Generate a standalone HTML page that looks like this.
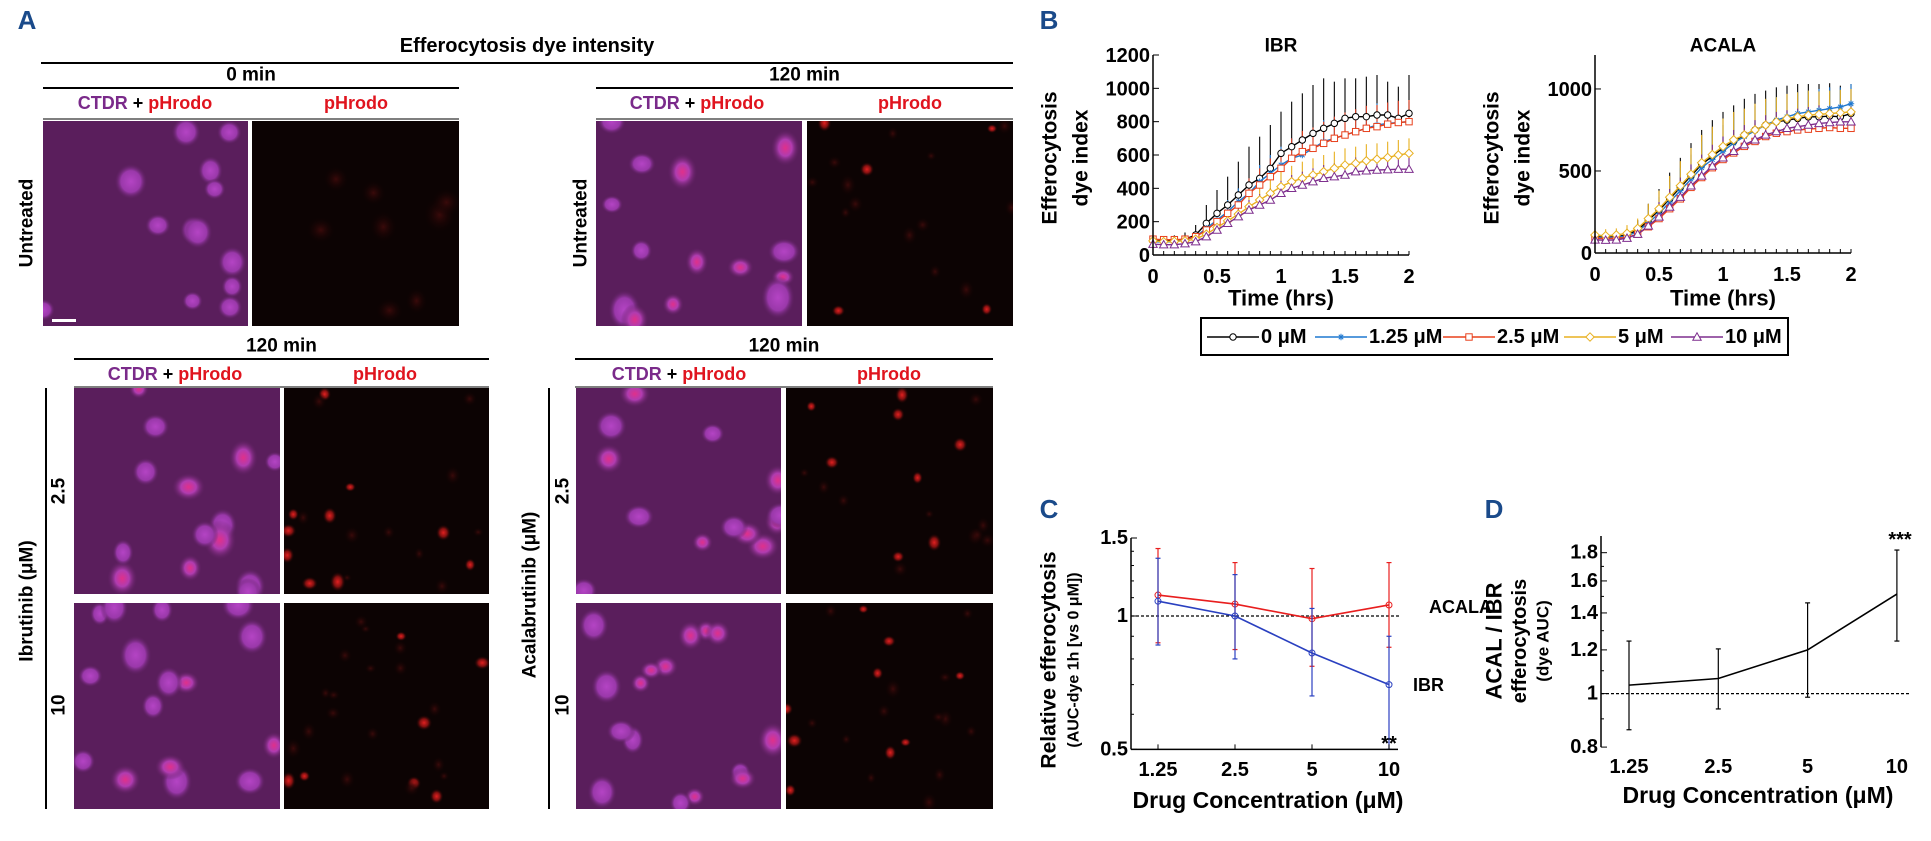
<!DOCTYPE html>
<html><head><meta charset="utf-8">
<style>
html,body{margin:0;padding:0;background:#fff;}
svg{display:block;}
.n{font-family:"Liberation Sans Narrow","Liberation Sans",sans-serif;font-weight:bold;}
.w{font-family:"Liberation Sans",sans-serif;font-weight:bold;}
</style></head>
<body>
<svg id="fig" width="1931" height="841" viewBox="0 0 1931 841" xmlns="http://www.w3.org/2000/svg">
<defs>
<radialGradient id="gCell"><stop offset="0" stop-color="#b444c4"/><stop offset="0.6" stop-color="#9a38aa"/><stop offset="1" stop-color="#5a1e5c" stop-opacity="0"/></radialGradient>
<radialGradient id="gCellR"><stop offset="0" stop-color="#e0308a"/><stop offset="0.45" stop-color="#b03cb0"/><stop offset="1" stop-color="#5a1e5c" stop-opacity="0"/></radialGradient>
<radialGradient id="gRed"><stop offset="0" stop-color="#e02020"/><stop offset="0.5" stop-color="#801010"/><stop offset="1" stop-color="#100202" stop-opacity="0"/></radialGradient>
<radialGradient id="gRedF"><stop offset="0" stop-color="#3a0a0a"/><stop offset="1" stop-color="#100202" stop-opacity="0"/></radialGradient>
</defs>
<g id="panelA"></g>
<g id="panelB"></g>
<g id="panelC"></g>
<g id="panelD"></g>
</svg>
<script>
// ---------- Panel B data (t = 0..2 h, step 5 min) ----------
const timePoints = [0,0.0833,0.1667,0.25,0.3333,0.4167,0.5,0.5833,0.6667,0.75,0.8333,0.9167,1,1.0833,1.1667,1.25,1.3333,1.4167,1.5,1.5833,1.6667,1.75,1.8333,1.9167,2];
const seriesLabels = ["0 μM","1.25 μM","2.5 μM","5 μM","10 μM"];
const ibr0 = [90,85,88,95,120,190,250,300,360,420,460,520,610,650,690,730,760,790,820,830,830,840,840,820,850];
const ibr125 = [80,78,80,90,110,160,210,260,320,370,440,490,540,580,600,640,680,700,720,740,760,780,790,795,800];
const ibr25 = [95,92,92,95,110,150,200,250,300,370,420,470,520,580,620,640,670,700,720,740,760,770,785,795,800];
const ibr5 = [85,80,82,85,95,125,165,205,245,290,330,370,410,440,460,480,500,520,540,550,565,575,585,600,610];
const ibr10 = [65,62,62,68,80,110,150,190,230,270,300,330,370,400,420,440,460,470,480,500,505,510,512,515,515];
const ibrErr0 = [15,20,30,40,60,110,140,170,200,230,250,260,250,270,280,290,300,250,240,230,240,240,200,190,230];
const ibrErr125 = [10,12,15,20,30,50,60,70,80,90,100,110,110,120,120,120,130,130,130,130,130,130,120,120,120];
const ibrErr25 = [10,12,15,20,30,50,60,70,80,90,100,110,115,120,125,125,130,130,135,135,135,130,130,130,130];
const ibrErr5 = [8,10,12,15,25,40,50,60,70,75,80,85,90,95,100,100,100,100,100,100,100,95,95,90,90];
const ibrErr10 = [6,8,10,12,20,30,40,50,55,60,65,70,75,80,80,80,80,80,85,85,85,85,85,85,85];
const ac0 = [100,95,100,110,140,200,260,330,400,470,540,590,640,680,720,750,780,800,810,820,830,830,835,830,850];
const ac125 = [95,92,95,105,130,185,240,310,380,450,520,570,620,670,710,745,780,810,830,850,860,870,880,890,910];
const ac25 = [90,88,90,95,115,160,210,270,330,400,460,520,570,610,650,680,710,730,740,750,755,760,765,760,760];
const ac5 = [110,105,110,120,150,210,270,340,410,480,550,600,650,690,720,750,780,800,820,830,840,845,850,855,860];
const ac10 = [80,78,80,90,115,165,220,280,340,410,470,530,580,620,660,690,720,740,760,770,780,790,795,800,800];
const acErr0 = [20,25,30,40,60,100,130,160,180,200,210,220,220,220,220,220,210,210,210,210,200,200,200,190,180];
const acErr125 = [20,20,25,35,50,80,100,120,140,150,160,160,160,160,150,150,140,140,140,130,130,130,130,120,120];
const acErr25 = [15,15,20,30,45,70,90,100,110,120,120,120,120,110,110,110,100,100,100,100,100,100,100,90,90];
const acErr5 = [40,40,40,50,60,90,110,130,150,160,170,170,170,170,160,160,160,150,150,150,150,140,140,140,140];
const acErr10 = [15,15,20,30,45,70,90,110,120,130,130,130,130,130,120,120,120,120,110,110,110,110,100,100,100];
const ibrTicks = [0,200,400,600,800,1000,1200];
const acTicks = [0,500,1000];
const timeTicks = [0,0.5,1,1.5,2];
// ---------- Panel C data ----------
const concLabels = ["1.25","2.5","5","10"];
const acalaRel = [1.115,1.064,0.986,1.059];
const acalaLo = [0.87,0.84,0.77,0.85];
const acalaHi = [1.42,1.32,1.28,1.32];
const ibrRel = [1.08,1.0,0.825,0.70];
const ibrLo = [0.86,0.80,0.66,0.50];
const ibrHi = [1.35,1.24,1.04,0.90];
const cTicks = [0.5,1,1.5];
// ---------- Panel D data ----------
const ratioVal = [1.036,1.065,1.20,1.515];
const ratioLo = [0.86,0.938,0.985,1.245];
const ratioHi = [1.245,1.205,1.46,1.82];
const dTicks = [0.8,1,1.2,1.4,1.6,1.8];

const NS = "http://www.w3.org/2000/svg";
function mk(parent, tag, attrs, nm, inter){
  const el = document.createElementNS(NS, tag);
  for (const k in attrs) el.setAttribute(k, attrs[k]);
  
  
  parent.appendChild(el);
  return el;
}
function txt(parent, x, y, s, size, cls, fill, nm, anchor, rot){
  const a = {x:x, y:y, 'font-size':size, class:cls, fill:fill||'#000', 'text-anchor':anchor||'middle', 'dominant-baseline':'central'};
  if (rot) a.transform = 'rotate(' + rot + ' ' + x + ' ' + y + ')';
  const t = mk(parent, 'text', a, nm, false);
  t.textContent = s;
  return t;
}
function line(p, x1, y1, x2, y2, stroke, w, nm, dash){
  const a = {x1:x1, y1:y1, x2:x2, y2:y2, stroke:stroke, 'stroke-width':w};
  if (dash) a['stroke-dasharray'] = dash;
  return mk(p, 'line', a, nm, false);
}

// ---------- Panel A (micrographs) ----------
const A = document.getElementById('panelA');
txt(A, 27, 20, "A", 26, 'n', '#1a4a8a', 'panel-a-letter');
txt(A, 527, 46, "Efferocytosis dye intensity", 20, 'w', '#000', 'panel-a-title');
line(A, 41, 63, 1013, 63, '#000', 2, 'title-rule');
let seed = 7;
function rnd(){ seed = (seed * 16807) % 2147483647; return seed / 2147483647; }
function header(x1, x2, yT, yLine, lbl, nm){
  txt(A, (x1+x2)/2, yT, lbl, 19, 'w', '#000', nm);
  line(A, x1, yLine, x2, yLine, '#000', 2, nm + '-rule');
}
function colHeads(xm, xr, y, yLine, x1, x2){
  const g = mk(A, 'text', {x:xm, y:y, 'font-size':18, class:'w', 'text-anchor':'middle', 'dominant-baseline':'central'}, 'merge-channel-label', false);
  g.innerHTML = '<tspan fill="#7a2a8a">CTDR</tspan><tspan fill="#000"> + </tspan><tspan fill="#e0141e">pHrodo</tspan>';
  txt(A, xr, y, "pHrodo", 18, 'w', '#e0141e', 'phrodo-channel-label');
  line(A, x1, yLine, x2, yLine, '#555', 1.5, 'column-header-rule');
}
function micro(x, y, w, h, kind, n, nm){
  const g = mk(A, 'g', {}, nm, false);
  const isMerge = kind === 'merge' || kind === 'mergeR';
  const bg = isMerge ? '#5a1e5c' : '#0c0303';
  mk(g, 'rect', {x:x, y:y, width:w, height:h, fill:bg}, nm + '-background', false);
  const cp = 'clip' + Math.round(x) + '_' + Math.round(y);
  const c = mk(g, 'clipPath', {id:cp}, 'clip', false);
  mk(c, 'rect', {x:x, y:y, width:w, height:h}, 'clip-rect', false);
  const inner = mk(g, 'g', {'clip-path':'url(#' + cp + ')'}, nm + '-cells', false);
  for (let i = 0; i < n; i++){
    const cx = x + rnd()*w, cy = y + rnd()*h, r = 10 + rnd()*7, rr = r*(0.8 + rnd()*0.5);
    let fill;
    if (kind === 'merge') fill = 'url(#gCell)';
    else if (kind === 'mergeR') fill = rnd() < 0.5 ? 'url(#gCellR)' : 'url(#gCell)';
    else if (kind === 'red0') fill = 'url(#gRedF)';
    else fill = rnd() < 0.35 ? 'url(#gRed)' : 'url(#gRedF)';
    const rs = kind === 'red' ? 0.5 : 1.0;
    mk(inner, 'ellipse', {cx:cx, cy:cy, rx:r*rs, ry:rr*rs, fill:fill}, 'cell', false);
  }
  return g;
}
header(43, 459, 75, 88, "0 min", 'header-0min');
header(596, 1013, 75, 88, "120 min", 'header-120min-untreated');
colHeads(145, 356, 103, 119, 43, 459);
colHeads(697, 910, 103, 119, 596, 1013);
micro(43, 121, 205, 205, 'merge', 13, 'untreated-0min-merge');
micro(252, 121, 207, 205, 'red0', 8, 'untreated-0min-phrodo');
mk(A, 'rect', {x:52, y:319, width:24, height:3, fill:'#fff'}, 'scale-bar', false);
micro(596, 121, 206, 205, 'mergeR', 14, 'untreated-120min-merge');
micro(807, 121, 206, 205, 'red', 18, 'untreated-120min-phrodo');
txt(A, 27, 223, "Untreated", 19, 'w', '#000', 'row-label-untreated', 'middle', -90);
txt(A, 581, 223, "Untreated", 19, 'w', '#000', 'row-label-untreated-2', 'middle', -90);
header(74, 489, 346, 359, "120 min", 'header-120min-ibrutinib');
header(575, 993, 346, 359, "120 min", 'header-120min-acalabrutinib');
colHeads(175, 385, 374, 387, 74, 489);
colHeads(679, 889, 374, 387, 575, 993);
micro(74, 388, 206, 206, 'mergeR', 14, 'ibr-2.5-merge');
micro(284, 388, 205, 206, 'red', 20, 'ibr-2.5-phrodo');
micro(74, 603, 206, 206, 'mergeR', 16, 'ibr-10-merge');
micro(284, 603, 205, 206, 'red', 24, 'ibr-10-phrodo');
micro(576, 388, 205, 206, 'mergeR', 13, 'acal-2.5-merge');
micro(786, 388, 207, 206, 'red', 18, 'acal-2.5-phrodo');
micro(576, 603, 205, 206, 'mergeR', 16, 'acal-10-merge');
micro(786, 603, 207, 206, 'red', 22, 'acal-10-phrodo');
line(A, 46, 388, 46, 809, '#000', 2, 'ibrutinib-bracket');
line(A, 549, 388, 549, 809, '#000', 2, 'acalabrutinib-bracket');
txt(A, 27, 601, "Ibrutinib (μM)", 19, 'w', '#000', 'ibrutinib-label', 'middle', -90);
txt(A, 530, 595, "Acalabrutinib (μM)", 19, 'w', '#000', 'acalabrutinib-label', 'middle', -90);
txt(A, 59, 491, "2.5", 19, 'w', '#000', 'dose-2.5-ibr', 'middle', -90);
txt(A, 59, 705, "10", 19, 'w', '#000', 'dose-10-ibr', 'middle', -90);
txt(A, 563, 491, "2.5", 19, 'w', '#000', 'dose-2.5-acal', 'middle', -90);
txt(A, 563, 705, "10", 19, 'w', '#000', 'dose-10-acal', 'middle', -90);

// ---------- Panel B ----------
const B = document.getElementById('panelB');
txt(B, 1049, 20, "B", 26, 'n', '#1a4a8a', 'panel-b-letter');
const colors = ['#000000','#1f78d0','#e8401c','#e8b020','#7e2f8e'];
const markers = ['circle','star','square','diamond','triangle'];
function marker(p, kind, x, y, col, nm){
  const s = 3.2;
  if (kind === 'circle') return mk(p, 'circle', {cx:x, cy:y, r:s, fill:'#fff', stroke:col, 'stroke-width':1}, nm, false);
  if (kind === 'square') return mk(p, 'rect', {x:x-s, y:y-s, width:2*s, height:2*s, fill:'#fff', stroke:col, 'stroke-width':1}, nm, false);
  if (kind === 'diamond') return mk(p, 'polygon', {points:(x)+','+(y-s-1)+' '+(x+s+1)+','+y+' '+x+','+(y+s+1)+' '+(x-s-1)+','+y, fill:'#fff', stroke:col, 'stroke-width':1}, nm, false);
  if (kind === 'triangle') return mk(p, 'polygon', {points:x+','+(y-s-1)+' '+(x+s+1)+','+(y+s)+' '+(x-s-1)+','+(y+s), fill:'#fff', stroke:col, 'stroke-width':1}, nm, false);
  return mk(p, 'path', {d:'M'+(x-s)+' '+y+'H'+(x+s)+'M'+x+' '+(y-s)+'V'+(y+s)+'M'+(x-s*0.7)+' '+(y-s*0.7)+'L'+(x+s*0.7)+' '+(y+s*0.7)+'M'+(x+s*0.7)+' '+(y-s*0.7)+'L'+(x-s*0.7)+' '+(y+s*0.7), stroke:col, 'stroke-width':1, fill:'none'}, nm, false);
}
function timeChart(cfg){
  const g = mk(B, 'g', {}, cfg.name, false);
  const X = t => cfg.x0 + t/2*(cfg.x1 - cfg.x0);
  const Y = v => cfg.y0 - (v - 0)/cfg.vmax*(cfg.y0 - cfg.yTop);
  txt(g, (cfg.x0+cfg.x1)/2, 46, cfg.title, 19, 'n', '#000', cfg.name + '-title');
  cfg.series.forEach((s, si) => {
    const eg = mk(g, 'g', {}, 'error-bars-' + si, false);
    s.forEach((v, i) => {
      line(eg, X(timePoints[i]), Y(v), X(timePoints[i]), Y(v + cfg.errs[si][i]), colors[si], 1.1, 'error-bar');
    });
  });
  cfg.series.forEach((s, si) => {
    const pts = s.map((v, i) => X(timePoints[i]) + ',' + Y(v)).join(' ');
    mk(g, 'polyline', {points:pts, fill:'none', stroke:colors[si], 'stroke-width':1.4}, 'series-line-' + si, false);
    s.forEach((v, i) => { marker(g, markers[si], X(timePoints[i]), Y(v), colors[si], 'data-point'); });
  });
  line(g, cfg.x0, cfg.yTop, cfg.x0, cfg.y0, '#000', 1.5, 'y-axis');
  line(g, cfg.x0, cfg.y0, cfg.x1, cfg.y0, '#000', 1.5, 'x-axis');
  timePoints.forEach(t => { line(g, X(t), cfg.y0, X(t), cfg.y0 - 4, '#000', 1, 'x-minor-tick'); });
  timeTicks.forEach(t => { txt(g, X(t), cfg.y0 + 22, String(t), 20, 'n', '#000', 'x-tick-label'); });
  cfg.ticks.forEach(v => {
    line(g, cfg.x0, Y(v), cfg.x0 + 6, Y(v), '#000', 1, 'y-tick');
    txt(g, cfg.x0 - 3, Y(v) + 1, String(v), 20, 'n', '#000', 'y-tick-label', 'end');
  });
  txt(g, (cfg.x0+cfg.x1)/2, 298, "Time (hrs)", 22, 'n', '#000', 'x-axis-title');
  txt(g, cfg.ylx, 158, "Efferocytosis", 21, 'w', '#000', 'y-axis-title', 'middle', -90);
  txt(g, cfg.ylx + 31, 158, "dye index", 21, 'w', '#000', 'y-axis-title-2', 'middle', -90);
}
timeChart({name:'ibr-timecourse', title:'IBR', x0:1153, x1:1409, y0:255, yTop:55, vmax:1200, ticks:ibrTicks, series:[ibr0,ibr125,ibr25,ibr5,ibr10], errs:[ibrErr0,ibrErr125,ibrErr25,ibrErr5,ibrErr10], ylx:1050});
timeChart({name:'acala-timecourse', title:'ACALA', x0:1595, x1:1851, y0:253, yTop:55, vmax:1207, ticks:acTicks, series:[ac0,ac125,ac25,ac5,ac10], errs:[acErr0,acErr125,acErr25,acErr5,acErr10], ylx:1492});
const L = mk(B, 'g', {}, 'legend', false);
mk(L, 'rect', {x:1201, y:318, width:587, height:37, fill:'#fff', stroke:'#000', 'stroke-width':2}, 'legend-box', false);
const legX = [1207,1315,1443,1564,1671];
seriesLabels.forEach((s, i) => {
  const e = mk(L, 'g', {}, 'legend-entry', false);
  line(e, legX[i], 337, legX[i] + 52, 337, colors[i], 1.4, 'legend-line');
  marker(e, markers[i], legX[i] + 26, 337, colors[i], 'legend-marker');
  txt(e, legX[i] + 54, 337, s, 20, 'n', '#000', 'legend-label', 'start');
});

// ---------- Panel C ----------
const C = document.getElementById('panelC');
txt(C, 1049, 509, "C", 26, 'n', '#1a4a8a', 'panel-c-letter');
const xC = i => 1158 + i*77;
const yC = v => 616 - Math.log10(v)*443;
line(C, 1131, yC(1), 1400, yC(1), '#000', 1.2, 'reference-line', '3,2');
function catSeries(p, vals, lo, hi, col, nm, X, Y, mkr){
  const g = mk(p, 'g', {}, nm, false);
  vals.forEach((v, i) => {
    line(g, X(i), Y(lo[i]), X(i), Y(hi[i]), col, 1.2, 'error-bar');
    line(g, X(i)-2.5, Y(lo[i]), X(i)+2.5, Y(lo[i]), col, 1.2, 'error-cap');
    line(g, X(i)-2.5, Y(hi[i]), X(i)+2.5, Y(hi[i]), col, 1.2, 'error-cap');
  });
  mk(g, 'polyline', {points:vals.map((v, i) => X(i) + ',' + Y(v)).join(' '), fill:'none', stroke:col, 'stroke-width':1.6}, nm + '-line', false);
  if (mkr) vals.forEach((v, i) => { mk(g, 'circle', {cx:X(i), cy:Y(v), r:3, fill:'none', stroke:col, 'stroke-width':1}, 'data-point', false); });
}
catSeries(C, acalaRel, acalaLo, acalaHi, '#e81e1e', 'acala-series', xC, yC, true);
catSeries(C, ibrRel, ibrLo, ibrHi, '#2a40c0', 'ibr-series', xC, yC, true);
line(C, 1131, yC(1.5), 1131, yC(0.5), '#000', 1.5, 'y-axis');
line(C, 1131, yC(0.5), 1398, yC(0.5), '#000', 1.5, 'x-axis');
cTicks.forEach(v => {
  line(C, 1131, yC(v), 1137, yC(v), '#000', 1, 'y-tick');
  txt(C, 1128, yC(v), String(v), 20, 'n', '#000', 'y-tick-label', 'end');
});
[0.6,0.7,0.8,0.9,1.1,1.2,1.3,1.4].forEach(v => { line(C, 1131, yC(v), 1134, yC(v), '#000', 1, 'y-minor-tick'); });
concLabels.forEach((s, i) => {
  line(C, xC(i), yC(0.5), xC(i), yC(0.5) - 5, '#000', 1, 'x-tick');
  txt(C, xC(i), 770, s, 20, 'n', '#000', 'x-tick-label');
});
txt(C, 1429, 607, "ACALA", 18, 'n', '#000', 'acala-label', 'start');
txt(C, 1413, 685, "IBR", 18, 'n', '#000', 'ibr-label', 'start');
txt(C, 1389, 744, "**", 20, 'n', '#000', 'significance-ibr-10');
txt(C, 1268, 800, "Drug Concentration (μM)", 23, 'n', '#000', 'x-axis-title');
txt(C, 1049, 660, "Relative efferocytosis", 21, 'w', '#000', 'y-axis-title', 'middle', -90);
txt(C, 1074, 660, "(AUC-dye 1h [vs 0 μM])", 16, 'w', '#000', 'y-axis-subtitle', 'middle', -90);

// ---------- Panel D ----------
const D = document.getElementById('panelD');
txt(D, 1494, 509, "D", 26, 'n', '#1a4a8a', 'panel-d-letter');
const xD = i => 1629 + i*89.3;
const yD = v => 693.6 - Math.log10(v)*552;
line(D, 1601, yD(1), 1911, yD(1), '#000', 1.2, 'reference-line', '3,2');
catSeries(D, ratioVal, ratioLo, ratioHi, '#000', 'ratio-series', xD, yD, false);
line(D, 1601, 536, 1601, yD(0.8), '#000', 1.5, 'y-axis');
dTicks.forEach(v => {
  line(D, 1601, yD(v), 1607, yD(v), '#000', 1, 'y-tick');
  txt(D, 1598, yD(v), String(v), 20, 'n', '#000', 'y-tick-label', 'end');
});
[0.9,1.1,1.3,1.5,1.7].forEach(v => { line(D, 1601, yD(v), 1604, yD(v), '#000', 1, 'y-minor-tick'); });
concLabels.forEach((s, i) => { txt(D, xD(i), 767, s, 20, 'n', '#000', 'x-tick-label'); });
txt(D, 1900, 540, "***", 20, 'n', '#000', 'significance-10');
txt(D, 1758, 795, "Drug Concentration (μM)", 23, 'n', '#000', 'x-axis-title');
txt(D, 1494, 641, "ACAL / IBR", 22, 'w', '#000', 'y-axis-title', 'middle', -90);
txt(D, 1520, 641, "efferocytosis", 20, 'w', '#000', 'y-axis-title-2', 'middle', -90);
txt(D, 1543, 641, "(dye AUC)", 17, 'w', '#000', 'y-axis-subtitle', 'middle', -90);
</script>
</body></html>
